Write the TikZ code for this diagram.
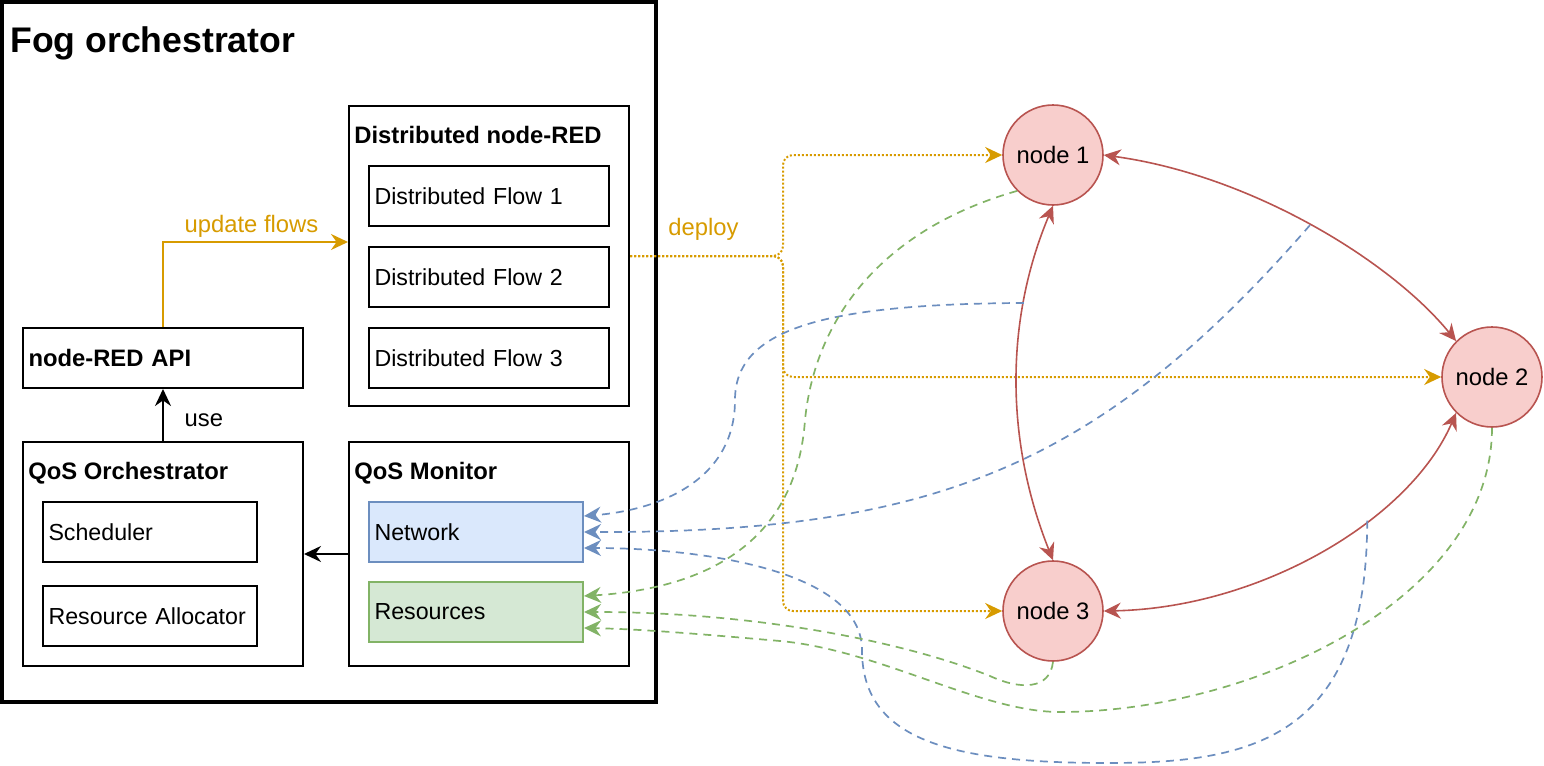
\documentclass[tikz,border=0pt]{standalone}
\usepackage{fontspec}
\setmainfont{Liberation Sans}
\usetikzlibrary{arrows.meta}

\definecolor{flowor}{HTML}{D79B00}
\definecolor{nodefill}{HTML}{F8CECC}
\definecolor{nodered}{HTML}{B85450}
\definecolor{netfill}{HTML}{DAE8FC}
\definecolor{netblue}{HTML}{6C8EBF}
\definecolor{resfill}{HTML}{D5E8D4}
\definecolor{resgreen}{HTML}{82B366}

\newcommand{\basefont}{\fontsize{11.9}{14}\selectfont}
\newcommand{\itemfont}{\fontsize{11.6}{14}\selectfont}
\newcommand{\titlefont}{\fontsize{17.8}{21}\selectfont\bfseries}

\tikzset{
  group/.style={draw, line width=1pt, minimum width=140pt, minimum height=#1},
  item/.style={draw, line width=1pt, minimum height=30pt, inner xsep=2.75pt, text width=#1, align=left, font=\itemfont},
  heading/.style={anchor=base west, inner sep=0pt, font=\basefont\bfseries},
  fognode/.style={circle, draw=nodered, fill=nodefill, line width=0.8pt, minimum size=50pt, inner sep=0pt},
  update/.style={draw=flowor, line width=1pt, ->},
  deploy/.style={update, dash pattern=on 1pt off 1pt, rounded corners=5pt},
  link/.style={draw=nodered, line width=0.8pt, <->},
  netmon/.style={draw=netblue, line width=0.85pt, dash pattern=on 4pt off 3pt, ->},
  resmon/.style={draw=resgreen, line width=0.85pt, dash pattern=on 4pt off 3pt, ->}
}

\begin{document}
\begin{tikzpicture}[x=0.5pt, y=-0.5pt, >={Stealth[length=8.5pt, width=8pt, inset=2.8pt]}, font=\basefont]
\useasboundingbox (0,0) rectangle (1544,766);

% orchestrator
\node[draw, line width=1.6pt, minimum width=327pt, minimum height=350pt] (fog) at (329,352) {};
\node[anchor=base west, inner sep=0pt, font=\titlefont] at (10,52) {Fog orchestrator};

\node[group=150pt] (dnr) at (489,256) {};
\node[heading] at ([shift={(6,38)}]dnr.north west) {Distributed node-RED};
\foreach \i/\y in {1/196, 2/277, 3/358}
  \node[item=114.5pt] (flow\i) at (489,\y) {Distributed Flow \i};

\node[item=134.5pt, font=\basefont\bfseries] (api) at (163,358) {node-RED API};

\node[group=112pt] (qo) at (163,554) {};
\node[heading] at ([shift={(6,38)}]qo.north west) {QoS Orchestrator};
\node[item=101.5pt] (sched) at (150,532) {Scheduler};
\node[item=101.5pt] (alloc) at (150,616) {\mbox{Resource Allocator}};

\node[group=112pt] (qm) at (489,554) {};
\node[heading] at ([shift={(6,38)}]qm.north west) {QoS Monitor};
\node[item=101.5pt, draw=netblue, fill=netfill] (net) at (476,532) {Network};
\node[item=101.5pt, draw=resgreen, fill=resfill] (res) at (476,612) {Resources};

% fog nodes
\node[fognode] (n1) at (1053,155) {node 1};
\node[fognode] (n2) at (1492,377) {node 2};
\node[fognode] (n3) at (1053,611) {node 3};

% inside the orchestrator
\draw[->, line width=1pt] (qo.north) -- node[right, xshift=7pt, yshift=-2.5pt] {use} (api.south);
\draw[->, line width=1pt] (qm.west) -- (qo.east);
\draw[update] (api.north) |- node[pos=.75, above, inner sep=2pt, xshift=-2pt, text=flowor] {update flows} ([yshift=7pt]dnr.west);

% deploy
\coordinate (fork) at (783,256);
\draw[deploy] (dnr.east) -- node[above, yshift=4pt, xshift=-1.5pt, text=flowor] {deploy} (fork) |- (n1);
\draw[deploy] (dnr.east) -- (fork) |- (n2);
\draw[deploy] (dnr.east) -- (fork) |- (n3);

% links between nodes
\draw[link] (n1.east) .. controls (1250,175) and (1390,260) .. (n2.north west) coordinate[pos=.5] (l12);
\draw[link] (n1.south) .. controls (1005,320) and (1005,440) .. (n3.north) coordinate[pos=.28] (l13);
\draw[link] (n2.south west) .. controls (1410,520) and (1260,608) .. (n3.east) coordinate[pos=.37] (l23);

% network monitoring
\draw[netmon] (l13) .. controls (820,304) and (735,330) .. (735,400)
  .. controls (735,480) and (660,510) .. ([yshift=8pt]net.east);
\draw[netmon] (l12) .. controls (1099,467) and (933,533) .. (net.east);
\draw[netmon] (l23) .. controls (1367,740) and (1250,763) .. (1108,763)
  .. controls (950,763) and (862,740) .. (862,650)
  .. controls (862,570) and (700,548) .. ([yshift=-8pt]net.east);

% resource monitoring
\draw[resmon] (n1.south west) .. controls (880,230) and (815,320) .. (805,420)
  .. controls (795,560) and (680,590) .. ([yshift=8pt]res.east);
\draw[resmon] (n3.south) .. controls (1050,690) and (1020,690) .. (990,676)
  .. controls (900,640) and (750,612) .. (res.east);
\draw[resmon] (n2.south) .. controls (1492,600) and (1250,712) .. (1060,712)
  .. controls (980,712) and (880,650) .. (780,641)
  .. controls (700,634) and (640,629) .. ([yshift=-8pt]res.east);
\end{tikzpicture}
\end{document}
